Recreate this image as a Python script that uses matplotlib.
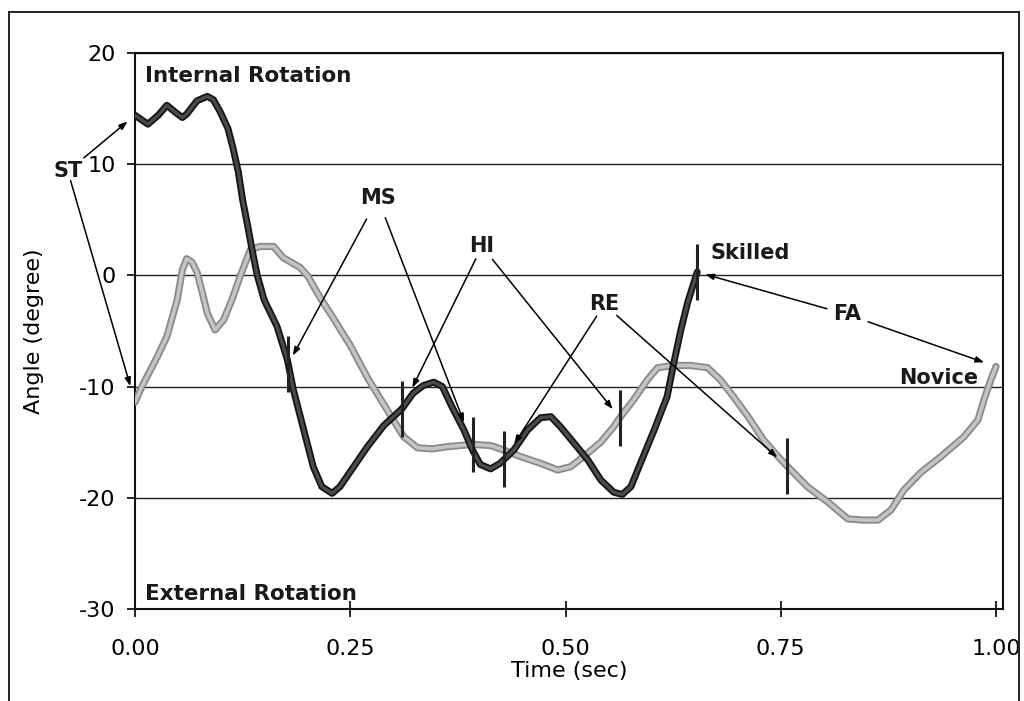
import numpy as np
import matplotlib
matplotlib.use("Agg")
import matplotlib.pyplot as plt
import matplotlib.patheffects as pe
from matplotlib.lines import Line2D

plt.rcParams['font.family'] = ['DejaVu Sans']
plt.rcParams['axes.unicode_minus'] = False

# ---------------- data ----------------
skilled_t = [0.000, 0.015, 0.027, 0.037, 0.048, 0.055, 0.060, 0.072, 0.084, 0.091,
             0.099, 0.108, 0.114, 0.120, 0.125, 0.131, 0.136, 0.142, 0.150, 0.165,
             0.177, 0.184, 0.196, 0.207, 0.217, 0.229, 0.238, 0.254, 0.270, 0.289,
             0.310, 0.323, 0.335, 0.347, 0.357, 0.368, 0.382, 0.392, 0.401, 0.413,
             0.424, 0.440, 0.456, 0.471, 0.483, 0.494, 0.509, 0.526, 0.541, 0.556,
             0.566, 0.576, 0.587, 0.603, 0.618, 0.626, 0.634, 0.642, 0.653]
skilled_y = [14.4, 13.6, 14.4, 15.3, 14.6, 14.2, 14.5, 15.7, 16.1, 15.8,
             14.7, 13.2, 11.4, 9.3, 6.8, 4.4, 2.3, 0.0, -2.2, -4.6,
             -7.6, -10.3, -13.9, -17.2, -19.0, -19.6, -19.0, -17.2, -15.4, -13.5,
             -12.0, -10.6, -9.9, -9.6, -10.0, -11.8, -13.9, -15.7, -17.0, -17.4,
             -16.9, -15.7, -13.9, -12.8, -12.7, -13.6, -15.0, -16.6, -18.4, -19.5,
             -19.7, -19.0, -16.9, -13.9, -10.9, -7.8, -4.9, -2.4, 0.3]

novice_t = [0.000, 0.008, 0.026, 0.037, 0.049, 0.055, 0.060, 0.066, 0.072, 0.078,
            0.084, 0.093, 0.103, 0.114, 0.122, 0.134, 0.145, 0.161, 0.172, 0.192,
            0.201, 0.215, 0.230, 0.250, 0.270, 0.289, 0.300, 0.312, 0.328, 0.345,
            0.363, 0.392, 0.413, 0.428, 0.448, 0.471, 0.491, 0.506, 0.521, 0.541,
            0.556, 0.564, 0.579, 0.595, 0.607, 0.626, 0.645, 0.665, 0.680, 0.695,
            0.712, 0.730, 0.747, 0.758, 0.781, 0.805, 0.828, 0.845, 0.863, 0.878,
            0.893, 0.913, 0.936, 0.963, 0.979, 0.986, 0.994, 1.000]
novice_y = [-11.4, -10.0, -7.3, -5.5, -2.2, 0.5, 1.5, 1.2, 0.3, -1.5,
            -3.4, -4.9, -4.0, -1.9, -0.1, 2.3, 2.6, 2.6, 1.6, 0.7,
            -0.1, -2.0, -3.8, -6.3, -9.2, -11.6, -13.0, -14.5, -15.5, -15.6,
            -15.4, -15.2, -15.3, -15.7, -16.3, -16.9, -17.5, -17.2, -16.3, -15.0,
            -13.6, -12.7, -11.2, -9.4, -8.3, -8.1, -8.1, -8.3, -9.4, -10.9,
            -12.7, -14.8, -16.3, -17.2, -19.0, -20.4, -21.9, -22.0, -22.0, -21.1,
            -19.3, -17.7, -16.3, -14.5, -13.0, -11.2, -9.4, -8.2]

# phases: ST, MS, HI, RE, FA
phase_names = ["ST", "MS", "HI", "RE", "FA"]
skilled_events = [0.000, 0.178, 0.310, 0.429, 0.653]
novice_events = [0.000, 0.392, 0.563, 0.757, 1.000]
skilled_marked = [False, True, True, True, True]
novice_marked = [False, True, True, True, False]

x_ticks = [0.00, 0.25, 0.50, 0.75, 1.00]
x_tick_labels = ["0.00", "0.25", "0.50", "0.75", "1.00"]
y_ticks = [-30, -20, -10, 0, 10, 20]

# ---------------- layout / style ----------------
label_pos = {"ST": (-0.078, 9.37), "MS": (0.282, 6.94), "HI": (0.403, 2.61),
             "RE": (0.545, -2.61), "FA": (0.827, -3.51)}
# shrink (points) at tail / head for arrows to skilled and novice
shrinkA_sk = {"ST": 15, "MS": 17, "HI": 10, "RE": 10, "FA": 15}
shrinkB_sk = {"ST": 7, "MS": 7, "HI": 17, "RE": 13, "FA": 6}
shrinkA_nv = {"ST": 7, "MS": 15, "HI": 12, "RE": 12, "FA": 16}
shrinkB_nv = {"ST": 12, "MS": 17, "HI": 8, "RE": 9, "FA": 9}

W, H = 1024, 701
fig = plt.figure(figsize=(W / 100, H / 100), dpi=100)
ax = fig.add_axes([135 / W, 92 / H, 868 / W, 556 / H])

# figure frame
for xs, ys in [([9 / W, 9 / W], [0, 1 - 12 / H]),
               ([9 / W, 1019 / W], [1 - 12 / H, 1 - 12 / H]),
               ([1019 / W, 1019 / W], [0, 1 - 12 / H])]:
    fig.add_artist(Line2D(xs, ys, color='#222222', lw=1.4, transform=fig.transFigure))

ax.set_xlim(0, 868 / 861)
ax.set_ylim(-30, 20)
ax.set_xticks(x_ticks)
ax.set_xticklabels(x_tick_labels)
ax.set_yticks(y_ticks)
ax.tick_params(axis='x', direction='inout', length=11.5, width=1.2, pad=16,
               labelsize=16, color='black')
ax.tick_params(axis='y', direction='out', length=6, width=1.2, pad=8,
               labelsize=16, color='black')
for s in ax.spines.values():
    s.set_linewidth(1.5)
    s.set_color('#111111')
ax.grid(axis='y', color='#222222', lw=1.0)
ax.set_axisbelow(True)

ax.set_xlabel("Time (sec)", fontsize=16)
ax.set_ylabel("Angle (degree)", fontsize=16)
ax.xaxis.set_label_coords(0.5, -0.0935)
ax.yaxis.set_label_coords(-0.105, 0.5)

# curves
ax.plot(novice_t, novice_y, color='#c4c4c4', lw=2.6, solid_capstyle='round',
        solid_joinstyle='round', zorder=3,
        path_effects=[pe.Stroke(linewidth=5.2, foreground='#8a8a8a', joinstyle='round'),
                      pe.Normal()])
ax.plot(skilled_t, skilled_y, color='#4a4a4a', lw=2.4, solid_capstyle='round',
        solid_joinstyle='round', zorder=4,
        path_effects=[pe.Stroke(linewidth=5.0, foreground='#141414', joinstyle='round'),
                      pe.Normal()])

sk_vals = np.interp(skilled_events, skilled_t, skilled_y)
nv_vals = np.interp(novice_events, novice_t, novice_y)

half = 2.5
for t, v, m in zip(skilled_events, sk_vals, skilled_marked):
    if m:
        ax.vlines(t, v - half, v + half, color='#222222', lw=2.2, zorder=5)
for t, v, m in zip(novice_events, nv_vals, novice_marked):
    if m:
        ax.vlines(t, v - half, v + half, color='#222222', lw=2.2, zorder=5)

# labels and arrows
bold = dict(fontsize=15, fontweight='bold', color='#1a1a1a', zorder=6)
for i, name in enumerate(phase_names):
    lx, ly = label_pos[name]
    ax.text(lx, ly, name, ha='center', va='center', clip_on=False, **bold)
    for (tx, ty, sa, sb) in [(skilled_events[i], sk_vals[i], shrinkA_sk[name], shrinkB_sk[name]),
                             (novice_events[i], nv_vals[i], shrinkA_nv[name], shrinkB_nv[name])]:
        ax.annotate('', xy=(tx, ty), xytext=(lx, ly), xycoords='data', textcoords='data',
                    annotation_clip=False, zorder=6,
                    arrowprops=dict(arrowstyle='-|>,head_length=0.5,head_width=0.18',
                                    color='black', lw=1.1, shrinkA=sa, shrinkB=sb))

ax.text(0.668, 1.45, "Skilled", ha='left', va='baseline', **bold)
ax.text(0.933, -9.8, "Novice", ha='center', va='baseline', **bold)
ax.text(0.0116, 17.39, "Internal Rotation", ha='left', va='baseline',
        fontsize=15.5, fontweight='bold', color='#1a1a1a')
ax.text(0.0116, -29.19, "External Rotation", ha='left', va='baseline',
        fontsize=15.5, fontweight='bold', color='#1a1a1a')

fig.savefig("out.png", dpi=100)
